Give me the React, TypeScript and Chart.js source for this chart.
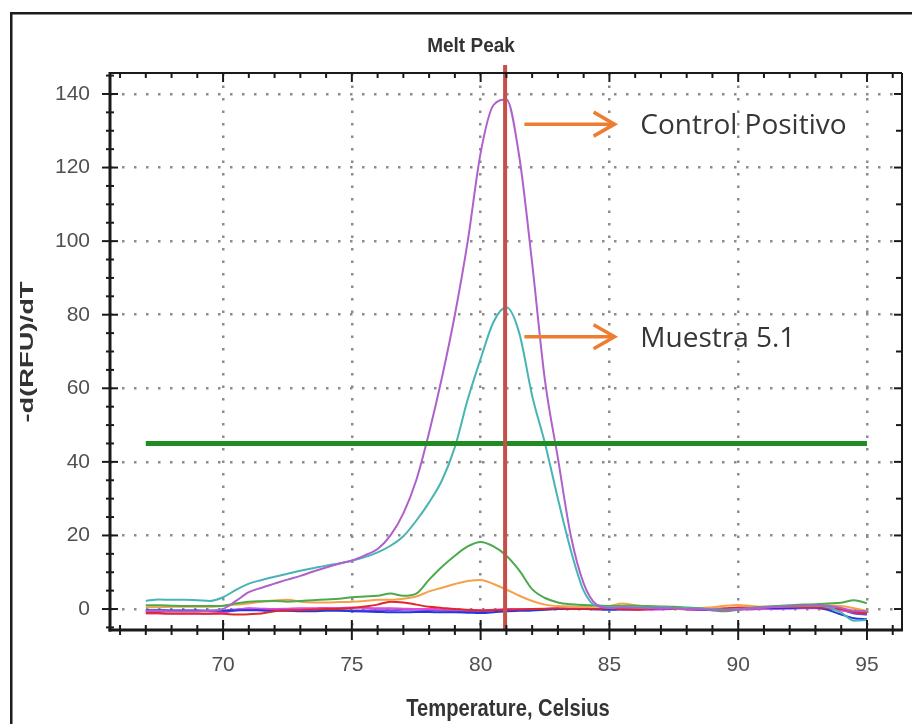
import React, { useEffect, useRef } from "react";
import { Chart, registerables } from "chart.js";

Chart.register(...registerables);

// ---------------- data ----------------
const TEMPERATURES = [67, 67.5, 68, 68.5, 69, 69.5, 70, 70.5, 71, 71.5, 72, 72.5, 73, 73.5, 74, 74.5, 75, 75.5, 76, 76.5, 77, 77.5, 78, 78.5, 79, 79.5, 80, 80.5, 81, 81.5, 82, 82.5, 83, 83.5, 84, 84.5, 85, 85.5, 86, 86.5, 87, 87.5, 88, 88.5, 89, 89.5, 90, 90.5, 91, 91.5, 92, 92.5, 93, 93.5, 94, 94.5, 95];

const CONTROL_POSITIVO = [-0.5, -0.5, -0.6, -0.6, -0.6, -0.5, 0, 2.2, 4.6, 5.8, 6.9, 8, 9, 10.2, 11.3, 12.3, 13.2, 14.6, 16.3, 20, 26, 35, 48, 63, 80, 100, 124, 137, 138.5, 123, 94, 62, 41, 20, 7, 1.2, 0.3, 0.4, 0.3, 0.2, 0.3, 0.2, 0, 0, -0.2, -0.3, -0.1, 0.2, 0.4, 0.6, 0.8, 0.9, 1, 0.8, 0.3, -0.5, -0.6];
const MUESTRA_5_1 = [2.2, 2.6, 2.5, 2.5, 2.4, 2.2, 3.2, 5.2, 6.9, 7.9, 8.8, 9.6, 10.4, 11.1, 11.8, 12.4, 13.1, 14.1, 15.4, 17.2, 19.8, 24, 29, 35, 44, 57, 68, 78, 82, 75, 58, 45, 30, 16, 5, 0.8, 0.5, 0.6, 0.5, 0.4, 0.5, 0.3, 0.2, 0.1, 0, -0.2, 0, 0.2, 0.4, 0.6, 0.7, 0.8, 0.9, 0.5, -1, -3.2, -3];
const SAMPLE_GREEN = [1, 1, 0.9, 0.8, 0.8, 0.8, 0.9, 1.5, 2, 2.1, 2.2, 2, 2.2, 2.4, 2.6, 2.8, 3.2, 3.4, 3.6, 4.2, 3.6, 4.2, 8, 11.5, 14.5, 17, 18.2, 17, 14.5, 10.5, 5.4, 3, 1.8, 1.3, 1.1, 1, 0.8, 0.9, 0.9, 0.8, 0.7, 0.6, 0.4, 0.2, -0.3, -0.6, -0.2, 0.3, 0.6, 0.8, 1, 1.2, 1.3, 1.5, 1.7, 2.4, 1.6];
const SAMPLE_ORANGE = [0.5, 0.5, 0.6, 0.6, 0.6, 0.6, 0.8, 1.2, 1.5, 2, 2.3, 2.5, 2, 1.8, 1.8, 1.9, 2, 2.2, 2.5, 2.5, 2.8, 3.4, 4.8, 5.8, 6.8, 7.6, 7.9, 6.8, 5.3, 3.6, 2.2, 1.2, 0.8, 0.7, 0.6, 0.7, 0.8, 1.5, 1, 0.6, 0.4, 0.2, 0.1, 0.3, 0.5, 0.9, 1.1, 0.8, 0.6, 0.7, 0.9, 1, 1.1, 1, 0.8, 0.2, -0.5];
const SAMPLE_RED = [-1, -1.1, -1.2, -1.2, -1.2, -1.3, -1.3, -1.5, -1.4, -1.2, -0.6, -0.4, -0.3, -0.1, 0, 0.1, 0.3, 0.7, 1.2, 2, 1.8, 1.2, 0.6, 0.3, 0, -0.2, -0.4, -0.3, -0.2, -0.1, 0, 0.1, 0.2, 0.1, 0.1, 0.1, 0.2, 0, -0.2, 0, 0.3, 0.1, -0.1, 0, 0, 0.2, 0.4, 0.5, 0.5, 0.6, 0.6, 0.5, 0.5, 0.2, 0, -0.8, -1.2];
const SAMPLE_BLUE = [-0.3, -0.3, -0.4, -0.4, -0.4, -0.5, -0.5, -0.4, -0.3, -0.4, -0.5, -0.5, -0.6, -0.6, -0.5, -0.5, -0.6, -0.7, -0.8, -0.9, -0.9, -0.8, -0.8, -0.9, -0.9, -1, -1.1, -0.9, -0.6, -0.5, -0.4, -0.2, 0, 0, 0, -0.1, -0.2, -0.1, 0, 0.1, 0.2, 0.1, 0, -0.1, -0.3, -0.2, 0, 0.2, 0.3, 0.3, 0.3, 0.4, 0.4, -0.3, -1.5, -2.5, -2.8];
const SAMPLE_MAGENTA = [-1.2, -1.2, -1.3, -1.3, -1.3, -1.2, -1, -0.3, 0.2, 0.1, 0, 0.1, 0.2, 0.2, 0.3, 0.3, 0.4, 0.3, 0.2, 0.2, 0.1, 0, 0, -0.1, -0.2, -0.3, -0.3, -0.2, 0, 0, 0, 0, 0.1, 0.1, 0, 0, 0, -0.1, -0.2, -0.2, -0.1, 0, 0, -0.1, -0.2, -0.3, -0.2, -0.1, 0, 0, 0.1, 0.2, 0.2, 0, -0.4, -0.8, -1];
const SAMPLE_VIOLET = [-0.5, -0.5, -0.5, -0.5, -0.5, -0.5, -0.4, -0.1, 0.1, 0, -0.2, -0.3, -0.3, -0.2, -0.2, -0.3, -0.4, -0.4, -0.3, -0.3, -0.2, -0.2, -0.3, -0.4, -0.5, -0.6, -0.6, -0.4, -0.3, -0.2, -0.1, 0, 0, 0.1, 0.1, 0, 0, 0, 0, 0, 0.1, 0.1, 0, -0.1, -0.1, -0.1, 0, 0.1, 0.2, 0.3, 0.3, 0.4, 0.4, 0.2, -0.2, -1.2, -1.5];

const THRESHOLD_VALUE = 45;
const THRESHOLD_RANGE = [67, 95];
const MELT_PEAK_TEMP = 80.95;

const X_MAJOR_TICKS = [70, 75, 80, 85, 90, 95];
const X_MINOR_TICKS = [66, 67, 68, 69, 70, 71, 72, 73, 74, 75, 76, 77, 78, 79, 80, 81, 82, 83, 84, 85, 86, 87, 88, 89, 90, 91, 92, 93, 94, 95, 96];
const Y_MAJOR_TICKS = [0, 20, 40, 60, 80, 100, 120, 140];
const Y_MINOR_TICKS = [-5, 0, 5, 10, 15, 20, 25, 30, 35, 40, 45, 50, 55, 60, 65, 70, 75, 80, 85, 90, 95, 100, 105, 110, 115, 120, 125, 130, 135, 140, 145];
const Y_RIGHT_TICKS = [0, 10, 20, 30, 40, 50, 60, 70, 80, 90, 100, 110, 120, 130, 140];

const ANNOTATIONS = [
  { label: "Control Positivo", y: 131.8 },
  { label: "Muestra 5.1", y: 74 },
];
const ARROW_FROM = 81.7;
const ARROW_TO = 85.2;
const LABEL_X = 86.2;

const TITLE = "Melt Peak";
const X_TITLE = "Temperature, Celsius";
const Y_TITLE = "-d(RFU)/dT";

// ---------------- helpers ----------------
function pts(values: number[]) {
  return TEMPERATURES.map((t, i) => ({ x: t, y: values[i] }));
}

function drawText(
  ctx: CanvasRenderingContext2D,
  text: string,
  x: number,
  y: number,
  font: string,
  color: string,
  align: CanvasTextAlign,
  sx = 1,
  sy = 1,
  rot = 0
) {
  ctx.save();
  ctx.translate(x, y);
  ctx.rotate(rot);
  ctx.scale(sx, sy);
  ctx.font = font;
  ctx.fillStyle = color;
  ctx.textAlign = align;
  ctx.textBaseline = "alphabetic";
  ctx.fillText(text, 0, 0);
  ctx.restore();
}

function line(ctx: CanvasRenderingContext2D, x1: number, y1: number, x2: number, y2: number) {
  ctx.beginPath();
  ctx.moveTo(x1, y1);
  ctx.lineTo(x2, y2);
  ctx.stroke();
}

const decorPlugin = {
  id: "decor",
  beforeDraw(chart: any) {
    const { ctx, width, height } = chart;
    ctx.save();
    ctx.fillStyle = "#ffffff";
    ctx.fillRect(0, 0, width, height);
    ctx.strokeStyle = "#1c1c1c";
    ctx.lineWidth = 2.5;
    ctx.strokeRect(11.25, 13.25, width + 40, height + 40);
    ctx.restore();
  },
  afterDatasetsDraw(chart: any) {
    const { ctx, chartArea: a, scales } = chart;
    const xs = scales.x;
    const ys = scales.y;
    ctx.save();

    // melt peak marker
    const px = xs.getPixelForValue(MELT_PEAK_TEMP);
    ctx.strokeStyle = "#c4504a";
    ctx.lineWidth = 4;
    line(ctx, px, a.top - 8, px, a.bottom);

    // axes box
    ctx.strokeStyle = "#1a1a1a";
    ctx.lineWidth = 2;
    line(ctx, a.left, a.top, a.right, a.top);
    line(ctx, a.right, a.top, a.right, a.bottom);
    ctx.lineWidth = 3;
    line(ctx, a.left, a.top - 1, a.left, a.bottom + 1.5);
    line(ctx, a.left - 1.5, a.bottom, a.right + 1, a.bottom);

    // ticks
    ctx.lineWidth = 2;
    X_MINOR_TICKS.forEach((v) => {
      const p = xs.getPixelForValue(v);
      const major = X_MAJOR_TICKS.includes(v);
      line(ctx, p, a.bottom - (major ? 10 : 5), p, a.bottom + (major ? 10 : 5));
      line(ctx, p, a.top, p, a.top + (major ? 9 : 5));
    });
    Y_MINOR_TICKS.forEach((v) => {
      const p = ys.getPixelForValue(v);
      const major = Y_MAJOR_TICKS.includes(v);
      line(ctx, a.left - (major ? 8 : 4), p, a.left + (major ? 8 : 4), p);
    });
    Y_RIGHT_TICKS.forEach((v) => {
      const p = ys.getPixelForValue(v);
      const major = Y_MAJOR_TICKS.includes(v);
      line(ctx, a.right - (major ? 8 : 6), p, a.right, p);
    });

    // titles
    const cx = (xs.getPixelForValue(X_MAJOR_TICKS[0]) + xs.getPixelForValue(X_MAJOR_TICKS[X_MAJOR_TICKS.length - 1])) / 2;
    drawText(ctx, TITLE, 471, 52, 'bold 20px "Liberation Sans", Arial, sans-serif', "#333333", "center", 0.95, 1.05);
    drawText(ctx, X_TITLE, cx - 37, 716, 'bold 24px "Liberation Sans", Arial, sans-serif', "#333333", "center", 0.84, 1);
    drawText(ctx, Y_TITLE, 33, 352, 'bold 21px "Liberation Sans", Arial, sans-serif', "#333333", "center", 1.3, 0.9, -Math.PI / 2);

    // annotations
    ctx.strokeStyle = "#ed7d31";
    ctx.lineWidth = 3.5;
    ANNOTATIONS.forEach((an) => {
      const py = ys.getPixelForValue(an.y);
      const x1 = xs.getPixelForValue(ARROW_FROM);
      const x2 = xs.getPixelForValue(ARROW_TO);
      line(ctx, x1, py, x2 - 1, py);
      ctx.beginPath();
      ctx.moveTo(x2 - 21, py - 12);
      ctx.lineTo(x2, py);
      ctx.lineTo(x2 - 21, py + 12);
      ctx.stroke();
      drawText(ctx, an.label, xs.getPixelForValue(LABEL_X), py + 10, '28px "Open Sans", "Noto Sans", sans-serif', "#363636", "left");
    });

    ctx.restore();
  },
};

export default function App() {
  const ref = useRef<HTMLCanvasElement | null>(null);

  useEffect(() => {
    if (!ref.current) return;
    const base = {
      pointRadius: 0,
      borderWidth: 2,
      fill: false,
      cubicInterpolationMode: "monotone" as const,
    };
    const chart = new Chart(ref.current, {
      type: "line",
      data: {
        datasets: [
          {
            ...base,
            label: "Threshold",
            data: THRESHOLD_RANGE.map((t) => ({ x: t, y: THRESHOLD_VALUE })),
            borderColor: "#1f8c1f",
            borderWidth: 5,
            order: 0,
          },
          { ...base, label: "Control Positivo", data: pts(CONTROL_POSITIVO), borderColor: "#b060cc", order: 1 },
          { ...base, label: "Muestra 5.1", data: pts(MUESTRA_5_1), borderColor: "#48b4b4", order: 2 },
          { ...base, label: "Verde", data: pts(SAMPLE_GREEN), borderColor: "#4caa4c", order: 3 },
          { ...base, label: "Naranja", data: pts(SAMPLE_ORANGE), borderColor: "#f7a04a", order: 4 },
          { ...base, label: "Rojo", data: pts(SAMPLE_RED), borderColor: "#e02828", order: 5 },
          { ...base, label: "Azul", data: pts(SAMPLE_BLUE), borderColor: "#2038e0", order: 6 },
          { ...base, label: "Magenta", data: pts(SAMPLE_MAGENTA), borderColor: "#e848d8", order: 7 },
          { ...base, label: "Violeta", data: pts(SAMPLE_VIOLET), borderColor: "#7448e0", order: 8 },
        ],
      },
      options: {
        animation: false,
        responsive: false,
        maintainAspectRatio: false,
        devicePixelRatio: 1,
        layout: { padding: { top: 73, right: 10, left: 0, bottom: 0 } },
        plugins: { legend: { display: false }, tooltip: { enabled: false }, title: { display: false } },
        scales: {
          x: {
            type: "linear",
            min: 65.61,
            max: 96.36,
            afterFit: (s: any) => {
              s.height = 94;
            },
            afterBuildTicks: (s: any) => {
              s.ticks = X_MAJOR_TICKS.map((v) => ({ value: v }));
            },
            grid: { color: "#8c8c8c", lineWidth: 2.5, drawTicks: false },
            border: { display: false, dash: [2.5, 10] },
            ticks: {
              color: "#505050",
              padding: 23,
              font: { family: '"Liberation Sans", Arial, sans-serif', size: 21 },
              maxRotation: 0,
              autoSkip: false,
            },
          },
          y: {
            type: "linear",
            min: -5.7,
            max: 145.7,
            afterFit: (s: any) => {
              s.width = 110;
            },
            afterBuildTicks: (s: any) => {
              s.ticks = Y_MAJOR_TICKS.map((v) => ({ value: v }));
            },
            grid: { color: "#8c8c8c", lineWidth: 2.5, drawTicks: false },
            border: { display: false, dash: [2.5, 9.5] },
            ticks: {
              color: "#505050",
              padding: 20,
              font: { family: '"Liberation Sans", Arial, sans-serif', size: 21 },
              autoSkip: false,
            },
          },
        },
      },
      plugins: [decorPlugin],
    });
    return () => chart.destroy();
  }, []);

  return (
    <div style={{ position: "absolute", left: 0, top: 0, width: 912, height: 724, background: "#fff" }}>
      <canvas ref={ref} width={912} height={724} style={{ display: "block", width: 912, height: 724 }} />
    </div>
  );
}
